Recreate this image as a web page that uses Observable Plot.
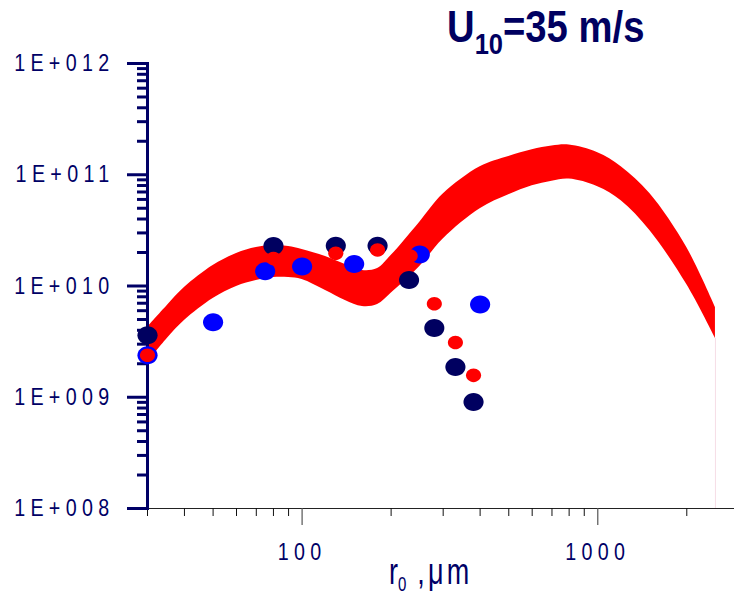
<!DOCTYPE html>
<html>
<head>
<meta charset="utf-8">
<script src="https://cdn.jsdelivr.net/npm/d3@7"></script>
<script src="https://cdn.jsdelivr.net/npm/@observablehq/plot@0.6"></script>
<style>
  body { margin: 0; background: #fff; }
  #wrap { position: relative; width: 734px; height: 598px; overflow: hidden; }
  #title { position: absolute; left: 447px; top: 4px; font-family: "Liberation Sans", Arial, sans-serif;
           font-weight: bold; font-size: 45px; line-height: 1; color: #000060; white-space: nowrap;
           transform: scaleX(0.85); transform-origin: 0 0; }
  #title .sub { font-size: 30px; position: relative; top: 12px; }
  #xlabel { position: absolute; left: 389px; top: 554px; font-family: "Liberation Sans", Arial, sans-serif;
            font-size: 36px; line-height: 1; color: #000066; white-space: pre; letter-spacing: 4.4px;
            transform: scaleX(0.75); transform-origin: 0 0; }
  #xlabel .r { letter-spacing: 0; }
  #xlabel .sub { font-size: 20px; position: relative; top: 7px; letter-spacing: 0; }
</style>
</head>
<body>
<div id="wrap">
  <div id="chart"></div>
  <div id="title">U<span class="sub">10</span>=35 m/s</div>
  <div id="xlabel"><span class="r">r</span><span class="sub">0</span> ,μm</div>
</div>
<script>
// ---- data ----
const bandX  = [30, 35, 40, 50, 60, 70, 80, 90, 100, 120, 140, 160, 180, 200, 250, 300, 400, 500, 600, 700, 800, 1000, 1200, 1500, 2000, 2500];
const bandHi = [4.24e9, 6.68e9, 9.69e9, 1.528e10, 1.957e10, 2.215e10, 2.31e10, 2.26e10, 2.127e10, 1.84e10, 1.56e10, 1.377e10, 1.436e10, 1.878e10, 3.75e10, 6.7e10, 1.18e11, 1.46e11, 1.68e11, 1.81e11, 1.85e11, 1.579e11, 1.182e11, 6.77e10, 2.215e10, 6.41e9];
const bandLo = [2.06e9, 3.38e9, 4.9e9, 7.72e9, 9.9e9, 1.12e10, 1.192e10, 1.192e10, 1.144e10, 9.11e9, 7.41e9, 6.55e9, 6.82e9, 8.6e9, 1.5e10, 2.65e10, 4.95e10, 6.6e10, 7.95e10, 8.75e10, 9.15e10, 7.82e10, 5.85e10, 3.15e10, 1.03e10, 3.38e9];

const navyX = [30, 80, 130, 180, 230, 280, 330, 380];
const navyY = [3.6e9, 2.29e10, 2.3e10, 2.3e10, 1.13e10, 4.2e9, 1.87e9, 9.06e8];
const blueX = [30, 50, 75, 100, 150, 250, 400];
const blueY = [2.38e9, 4.73e9, 1.358e10, 1.496e10, 1.58e10, 1.92e10, 6.82e9];
const redX  = [30, 80, 130, 180, 232, 280, 330, 380];
const redY  = [2.38e9, 1.77e10, 1.97e10, 2.11e10, 1.86e10, 6.92e9, 3.11e9, 1.573e9];

const yMajor = [1e8, 1e9, 1e10, 1e11, 1e12];
const yMinor = [2e8, 3e8, 4e8, 5e8, 6e8, 7e8, 8e8, 9e8,
                2e9, 3e9, 4e9, 5e9, 6e9, 7e9, 8e9, 9e9,
                2e10, 3e10, 4e10, 5e10, 6e10, 7e10, 8e10, 9e10,
                2e11, 3e11, 4e11, 5e11, 6e11, 7e11, 8e11, 9e11];
const xMajor = [100, 1000];
const xMinor = [30, 40, 50, 60, 70, 80, 90, 200, 300, 400, 500, 600, 700, 800, 900, 2000];

// ---- build tables ----
const band = bandX.map((x, i) => ({x, hi: bandHi[i], lo: bandLo[i]}));
const navy = navyX.map((x, i) => ({x, y: navyY[i]}));
const blue = blueX.map((x, i) => ({x, y: blueY[i]}));
const red  = redX.map((x, i) => ({x, y: redY[i]}));
const bandEnd = [band[band.length - 1]];

const NAVY = "#000060";
const AXIS = "#000066";

// slightly wide ellipse symbol
const ellipse = {
  draw(ctx, size) {
    const r = Math.sqrt(size / Math.PI);
    const a = r * 1.05, b = r * 0.94, k = 0.5523;
    ctx.moveTo(a, 0);
    ctx.bezierCurveTo(a, k * b, k * a, b, 0, b);
    ctx.bezierCurveTo(-k * a, b, -a, k * b, -a, 0);
    ctx.bezierCurveTo(-a, -k * b, -k * a, -b, 0, -b);
    ctx.bezierCurveTo(k * a, -b, a, -k * b, a, 0);
    ctx.closePath();
  }
};

const fmtY = d => "1E+" + String(Math.round(Math.log10(d))).padStart(3, "0");

const chart = Plot.plot({
  width: 734,
  height: 598,
  marginLeft: 147,
  marginRight: 0,
  marginTop: 63,
  marginBottom: 90,
  x: {type: "log", domain: [30, 2900]},
  y: {type: "log", domain: [1e8, 1e12]},
  style: "background:#fff;color:#000066;font-family:'Liberation Sans',Arial,sans-serif;font-size:24px;letter-spacing:6.5px;",
  marks: [
    Plot.ruleX(bandEnd, {x: "x", y1: 1e8, y2: "lo", stroke: "#f6dde6", strokeWidth: 1}),
    Plot.areaY(band, {x: "x", y1: "lo", y2: "hi", fill: "#ff0000", curve: "catmull-rom"}),
    Plot.frame({anchor: "bottom", stroke: "#222", strokeWidth: 1}),
    Plot.axisX({ticks: xMinor, tickSize: 8, tickFormat: () => "", stroke: "#111", strokeWidth: 1, label: null}),
    Plot.axisX({ticks: xMajor, tickSize: 17, tickPadding: 17, tickFormat: d => String(d), stroke: "#555", fill: AXIS, strokeWidth: 1.2, label: null}),
    Plot.axisY({ticks: yMinor, tickSize: 10, tickFormat: () => "", stroke: AXIS, strokeWidth: 3, label: null}),
    Plot.axisY({ticks: yMajor, tickSize: 20, tickPadding: 13, tickFormat: fmtY, stroke: AXIS, fill: AXIS, strokeWidth: 3, label: null}),
    Plot.frame({anchor: "left", stroke: AXIS, strokeWidth: 3}),
    Plot.dot(navy, {x: "x", y: "y", r: 9.6, fill: NAVY, symbol: ellipse}),
    Plot.dot(blue, {x: "x", y: "y", r: 9.6, fill: "#0000ff", symbol: ellipse}),
    Plot.dot(red,  {x: "x", y: "y", r: 7.2, fill: "#ff0000", symbol: ellipse})
  ]
});

// condense tick-label glyphs horizontally (narrow typeface look), keeping each anchor in place
chart.querySelectorAll("text").forEach(t => {
  let tr = t.getAttribute("transform") || "";
  const xa = t.getAttribute("x");
  if (xa !== null && /^-?[\d.]+$/.test(xa.trim()) && +xa !== 0) {
    tr += ` translate(${+xa},0)`;
    t.removeAttribute("x");
  }
  t.setAttribute("transform", `${tr} scale(0.82,1)`.trim());
});

document.getElementById("chart").appendChild(chart);
</script>
</body>
</html>
